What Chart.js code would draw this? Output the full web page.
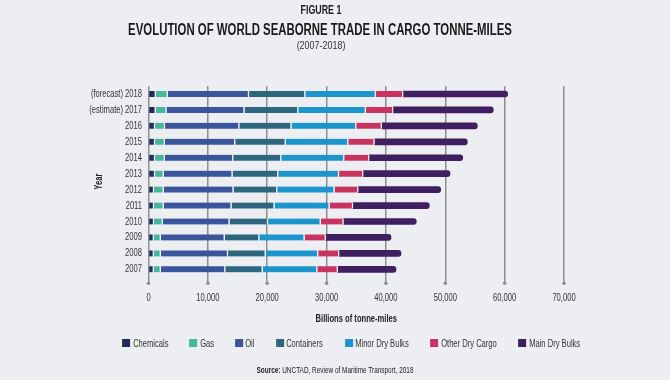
<!DOCTYPE html>
<html><head><meta charset="utf-8">
<script src="https://cdn.jsdelivr.net/npm/chart.js@4.4.1/dist/chart.umd.min.js"></script>
<style>
html,body{margin:0;padding:0;background:#eceef1;}
#wrap{position:relative;width:670px;height:380px;overflow:hidden;background:#eceef1;}
canvas{position:absolute;left:0;top:0;}
.t{position:absolute;white-space:nowrap;line-height:1;font-family:'Liberation Sans',Arial,sans-serif;transform-origin:center top;color:#1a1a1a;}
#fig{top:4.4px;font-size:12.5px;font-weight:bold;}
#ttl{top:21.8px;font-size:16.8px;font-weight:bold;}
#sub{top:39.5px;font-size:11.5px;color:#333;}
#src{top:365.5px;font-size:9px;color:#222;}
#legend{position:absolute;top:337px;left:351px;transform:translateX(-50%);display:flex;gap:21.5px;align-items:center;white-space:nowrap;font-family:'Liberation Sans',Arial,sans-serif;font-size:11px;line-height:12px;color:#333;}
#legend .it{display:flex;align-items:center;}
#legend .mk{display:inline-block;width:8px;height:8px;margin-right:2.5px;flex:none;}
#legend .tx{display:inline-block;transform-origin:left center;}
</style>
</head><body>
<div id="wrap">
<canvas id="c" width="670" height="380"></canvas>
<div class="t" id="fig" data-cx="320.5" data-w="41">FIGURE 1</div>
<div class="t" id="ttl" data-cx="320" data-w="384">EVOLUTION OF WORLD SEABORNE TRADE IN CARGO TONNE-MILES</div>
<div class="t" id="sub" data-cx="320.5" data-w="49">(2007-2018)</div>
<div id="legend"></div>
<div class="t" id="src" data-cx="335" data-w="157"><b>Source:</b> UNCTAD, Review of Maritime Transport, 2018</div>
</div>
<script>
// ---- data (billions of tonne-miles), top row first ----
const years = ['(forecast) 2018','(estimate) 2017','2016','2015','2014','2013','2012','2011','2010','2009','2008','2007'];
const seriesNames = ['Chemicals','Gas','Oil','Containers','Minor Dry Bulks','Other Dry Cargo','Main Dry Bulks'];
const chemicals  = [1230, 1210, 1095, 1095, 1095, 1095,  925,  925,  925,  895,  895,  895];
const gas        = [2005, 1820, 1685, 1655, 1655, 1465, 1635, 1635, 1485, 1180, 1180, 1180];
const oil        = [13700,13140,12520,11860,11520,11590,11760,11425,11240,10765,11320,10865];
const containers = [9485, 9065, 8795, 8505, 8090, 7700, 7365, 7245, 6485, 5830, 6350, 6300];
const minorDry   = [11880,11375,10900,10535,10615,10250, 9655, 9270, 8880, 7615, 8845, 9200];
const otherDry   = [4615, 4615, 4315, 4430, 4215, 4090, 4010, 3960, 3840, 3590, 3540, 3455];
const mainDry    = [17605,16865,16090,15635,15750,14610,13880,12850,12265,10985,10415, 9805];
const xTickStep = 10000;
const xMax = 70000;

const F = "'Liberation Sans',Arial,sans-serif";
const SX = 0.69; // horizontal condensing of text (reference uses a condensed face)
const BG = '#eceef1';
const colors = ['#1d2b5e','#45b79d','#3a559c','#2e677f','#1b95cc','#c8345f','#3f1f60'];
const seriesData = [chemicals, gas, oil, containers, minorDry, otherDry, mainDry];
const last = seriesNames.length - 1;

// condensed text on the chart canvas
const canvas = document.getElementById('c');
const cx2d = canvas.getContext('2d');
const origFill = cx2d.fillText.bind(cx2d);
const origMeasure = cx2d.measureText.bind(cx2d);
cx2d.fillText = function(t, x, y, mw) {
  this.save(); this.translate(x, y); this.scale(SX, 1);
  if (mw === undefined) origFill(t, 0, 0); else origFill(t, 0, 0, mw / SX);
  this.restore();
};
cx2d.measureText = function(t) {
  const m = origMeasure(t);
  return {
    width: m.width * SX,
    actualBoundingBoxLeft: m.actualBoundingBoxLeft * SX,
    actualBoundingBoxRight: m.actualBoundingBoxRight * SX,
    actualBoundingBoxAscent: m.actualBoundingBoxAscent,
    actualBoundingBoxDescent: m.actualBoundingBoxDescent,
    fontBoundingBoxAscent: m.fontBoundingBoxAscent,
    fontBoundingBoxDescent: m.fontBoundingBoxDescent
  };
};

const datasets = seriesNames.map((name, i) => ({
  label: name,
  data: seriesData[i],
  backgroundColor: colors[i],
  borderColor: BG,
  borderWidth: i < last ? {left:0, top:0, bottom:0, right:1.5} : 0,
  borderSkipped: i < last ? 'start' : false,
  borderRadius: i === last ? {topLeft:0, bottomLeft:0, topRight:3, bottomRight:3} : 0,
  barThickness: 6
}));

const tickDots = {
  id: 'tickDots',
  afterDatasetsDraw(chart) {
    const xs = chart.scales.x, ctx = chart.ctx;
    const y = chart.chartArea.bottom + 6;
    ctx.save();
    ctx.fillStyle = '#8e8e8e';
    xs.ticks.forEach((t, i) => {
      const px = xs.getPixelForTick(i);
      ctx.beginPath(); ctx.arc(px, y, 1.8, 0, Math.PI * 2); ctx.fill();
    });
    ctx.restore();
  }
};

const chart = new Chart(canvas, {
  type: 'bar',
  data: { labels: years, datasets },
  plugins: [tickDots],
  options: {
    responsive: false, animation: false, devicePixelRatio: 1,
    indexAxis: 'y',
    layout: { padding: { left: 60, right: 106, top: 86, bottom: 54.4 } },
    plugins: { legend: { display: false }, tooltip: { enabled: false } },
    scales: {
      x: {
        stacked: true, min: 0, max: xMax,
        ticks: { stepSize: xTickStep, callback: v => Number(v).toLocaleString('en-US'),
                 font: { size: 11, family: F }, color: '#333', padding: 8.1, maxRotation: 0, autoSkip: false },
        grid: { color: '#8e8e8e', lineWidth: 1.5, tickLength: 6, drawTicks: true },
        border: { display: false },
        title: { display: true, text: 'Billions of tonne-miles', font: { size: 11, weight: 'bold', family: F },
                 color: '#222', padding: { top: 0, bottom: 0 } },
        afterFit: s => { s.height = 48.3; }
      },
      y: {
        stacked: true,
        ticks: { font: { size: 11, family: F }, color: '#333', padding: 6.5, autoSkip: false },
        grid: { display: false, drawTicks: false },
        border: { display: false },
        title: { display: true, text: 'Year', font: { size: 11, weight: 'bold', family: F },
                 color: '#222', padding: { top: 32.4, bottom: 0 } },
        afterFit: s => { s.width = 88.5; }
      }
    }
  }
});

// HTML legend built from the chart's datasets
const leg = document.getElementById('legend');
chart.data.datasets.forEach(ds => {
  const it = document.createElement('span'); it.className = 'it';
  const mk = document.createElement('span'); mk.className = 'mk'; mk.style.background = ds.backgroundColor;
  const wrap = document.createElement('span'); wrap.style.display = 'inline-block'; wrap.style.overflow = 'visible';
  const tx = document.createElement('span'); tx.className = 'tx'; tx.textContent = ds.label;
  wrap.appendChild(tx);
  it.appendChild(mk); it.appendChild(wrap);
  leg.appendChild(it);
  const w = tx.offsetWidth;
  wrap.style.width = (w * SX) + 'px';
  tx.style.transform = 'scaleX(' + SX + ')';
});

// fit header / source text widths
document.querySelectorAll('.t').forEach(el => {
  const cx = parseFloat(el.dataset.cx), tw = parseFloat(el.dataset.w);
  const w = el.offsetWidth;
  el.style.left = cx + 'px';
  el.style.transform = 'translateX(-50%) scaleX(' + (tw / w) + ')';
});
</script>
</body></html>
